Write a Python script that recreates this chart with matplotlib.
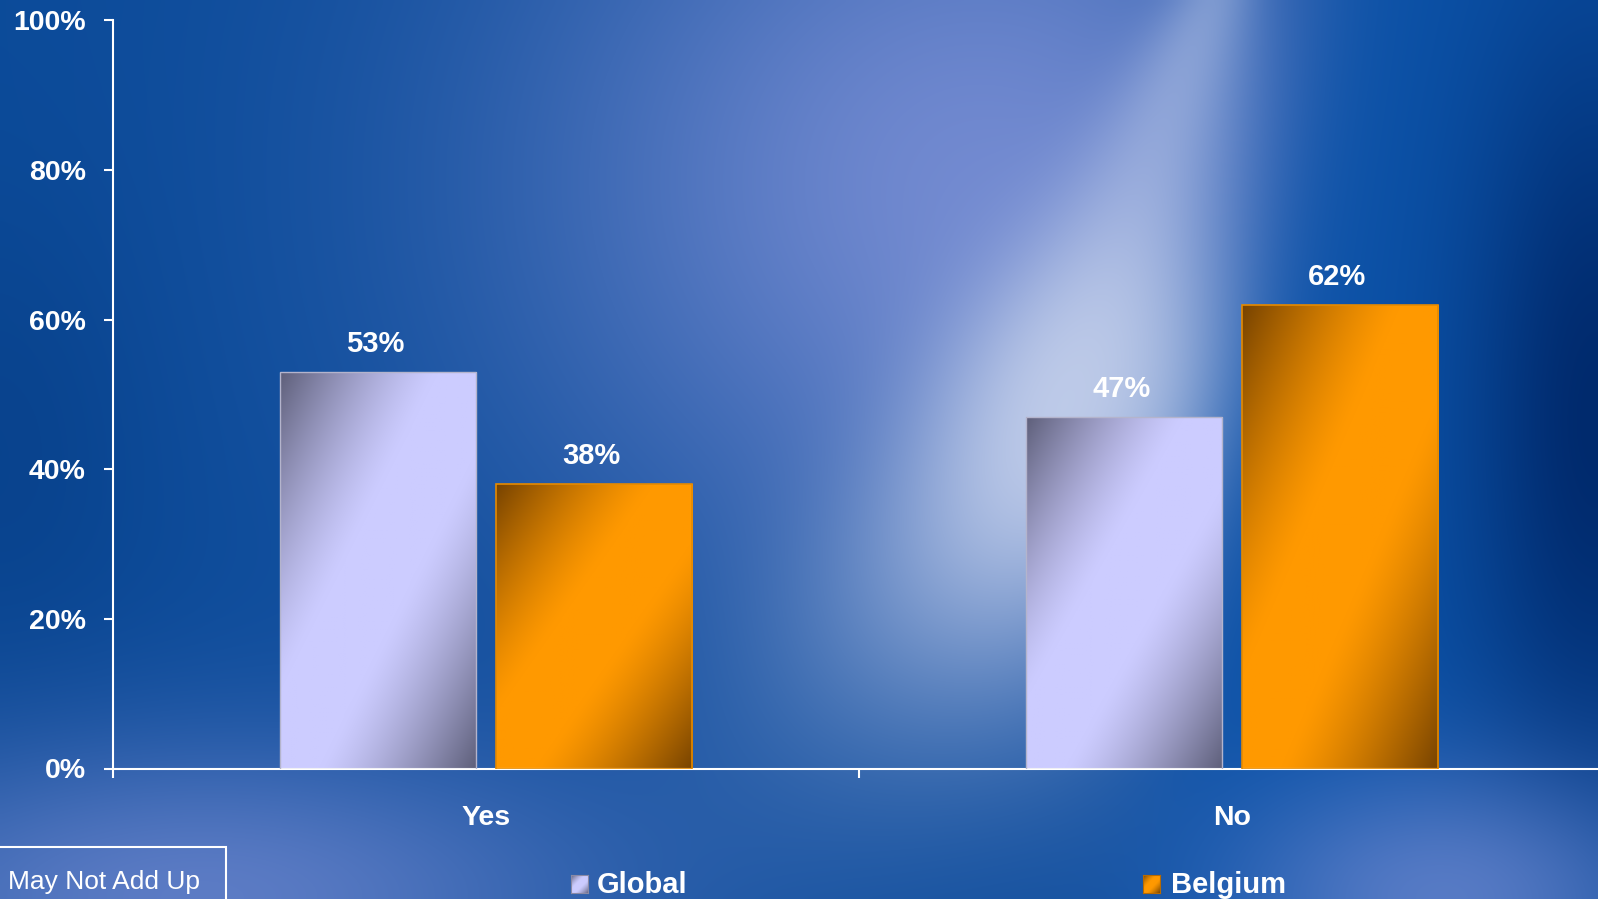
import numpy as np
import matplotlib
matplotlib.use("Agg")
import matplotlib.pyplot as plt
import matplotlib.colors as mcolors
from matplotlib.patches import Rectangle

plt.rcParams['font.family'] = ['Liberation Sans', 'DejaVu Sans']

# data
categories = ['Yes', 'No']
global_vals = [53, 47]
belgium_vals = [38, 62]
series_names = ['Global', 'Belgium']
y_ticks = [0, 20, 40, 60, 80, 100]
y_tick_labels = ['0%', '20%', '40%', '60%', '80%', '100%']
footnote = 'May Not Add Up'

W_PX, H_PX = 1598, 899
fig = plt.figure(figsize=(W_PX / 100, H_PX / 100), dpi=100)


def rgb(h):
    return np.array(mcolors.to_rgb(h))


def blend(img, color, a):
    a = np.clip(a, 0, 1)[..., None]
    return img * (1 - a) + rgb(color) * a


def gauss(px, py, cx, cy, sx, sy):
    return np.exp(-((px - cx) / sx) ** 2 - ((py - cy) / sy) ** 2)


# background: blue slide with a soft light beam
gh, gw = 225, 400
yy, xx = np.mgrid[0:gh, 0:gw]
px = xx * W_PX / (gw - 1)
py = yy * H_PX / (gh - 1)
bg = np.ones((gh, gw, 3)) * rgb('#0b4b9a')
bg = blend(bg, '#063d85', 0.6 * gauss(px, py, 0, 450, 160, 260))
bg = blend(bg, '#7189d0', 1.0 * gauss(px, py, 980, 180, 470, 430))
# beam
beam_x = 1215 - 0.36 * py
sig = 45 + 0.24 * py
beam_w = np.exp(-((px - beam_x) / sig) ** 2)
beam_s = 0.9 * np.exp(-((py - 420) / 280) ** 2) + 0.35 * np.exp(-(py / 170) ** 2)
bg = blend(bg, '#c5d0ec', beam_w * beam_s)
bg = blend(bg, '#c3cfea', 0.55 * gauss(px, py, 1110, 390, 150, 130))
# right side darker blue and navy edge
right = 1 / (1 + np.exp(-(px - 1320 + 0.2 * py) / 35))
bg = blend(bg, '#0b52a8', right)
bg = blend(bg, '#00286a', 0.95 * gauss(px, py, 1598, 420, 130, 400))
# lighter glow along the bottom
bg = blend(bg, '#6a84cc', 0.85 * gauss(px, py, 200, 899, 420, 160))
bg = blend(bg, '#7089d0', 0.75 * gauss(px, py, 1450, 899, 220, 130))

ax_bg = fig.add_axes([0, 0, 1, 1], zorder=-10)
ax_bg.imshow(bg, extent=[0, 1, 0, 1], aspect='auto', interpolation='bicubic')
ax_bg.set_axis_off()


def bar_gradient(dark, light, n=200):
    u, w = np.meshgrid(np.linspace(0, 1, n), np.linspace(0, 1, n))
    f = np.abs(u + w - 1)
    k = np.clip((f - 0.2) / 0.8, 0, 1) ** 1.3
    return rgb(light) * (1 - k[..., None]) + rgb(dark) * k[..., None]


grad_global = bar_gradient('#5e5f7a', '#ccccff')
grad_belgium = bar_gradient('#774300', '#ff9900')

# main axes, category width 746 px, starting at x=113
left = 113 / W_PX
bottom = 1 - 768.5 / H_PX
top = 1 - 20.4 / H_PX
ax = fig.add_axes([left, bottom, 2 * 746 / W_PX, top - bottom])
ax.patch.set_alpha(0)

x = np.arange(len(categories))
bw = 0.263
off = 0.1445
bars_g = ax.bar(x - off, global_vals, bw, facecolor='none',
                edgecolor='#b4b4cc', linewidth=1.0, zorder=3)
bars_b = ax.bar(x + off, belgium_vals, bw, facecolor='none',
                edgecolor='#e58a00', linewidth=1.2, zorder=3)

for bars, grad in [(bars_g, grad_global), (bars_b, grad_belgium)]:
    for rect in bars:
        x0, w, h = rect.get_x(), rect.get_width(), rect.get_height()
        im = ax.imshow(grad, extent=[x0, x0 + w, 0, h], origin='upper',
                       aspect='auto', interpolation='bilinear', zorder=2)
        im.set_clip_path(rect)
        ax.annotate(f'{h:.0f}%', (x0 + w / 2, h), xytext=(-2, 20),
                    textcoords='offset points', ha='center', va='center',
                    color='white', fontsize=21, fontweight='bold')

ax.set_xlim(-0.5, 1.5)
ax.set_ylim(0, 100)

for s in ['top', 'right']:
    ax.spines[s].set_visible(False)
for s in ['left', 'bottom']:
    ax.spines[s].set_color('white')
    ax.spines[s].set_linewidth(1.5)

ax.set_yticks(y_ticks)
ax.set_yticklabels(y_tick_labels)
ax.tick_params(axis='y', colors='white', length=6.5, width=1.5, pad=13,
               labelsize=20.5)
for t in ax.get_yticklabels():
    t.set_fontweight('bold')

ax.set_xticks(x)
ax.set_xticklabels(categories)
ax.set_xticks([-0.5, 0.5, 1.5], minor=True)
ax.tick_params(axis='x', which='major', length=0, pad=26.5, colors='white',
               labelsize=20.5)
ax.tick_params(axis='x', which='minor', length=6.5, width=1.5, colors='white')
for t in ax.get_xticklabels():
    t.set_fontweight('bold')

# legend along the bottom
legend_items = [(series_names[0], grad_global, '#8a8aa6', 571, 597),
                (series_names[1], grad_belgium, '#b86a00', 1143, 1171)]
for name, grad, ec, mx, tx in legend_items:
    max_ = fig.add_axes([mx / W_PX, 1 - 893 / H_PX, 17 / W_PX, 18 / H_PX])
    max_.imshow(grad, aspect='auto', interpolation='bilinear')
    max_.set_xticks([])
    max_.set_yticks([])
    for s in max_.spines.values():
        s.set_color(ec)
        s.set_linewidth(0.8)
    fig.text(tx / W_PX, 1 - 885 / H_PX, name, color='white', fontsize=21,
             fontweight='bold', ha='left', va='center')

# footnote box in the lower left corner
fig.add_artist(Rectangle((-2 / W_PX, 1 - 910 / H_PX), 228 / W_PX, 63 / H_PX,
                         transform=fig.transFigure, facecolor='none',
                         edgecolor='white', linewidth=1.5))
fig.text(8 / W_PX, 1 - 889 / H_PX, footnote, color='white', fontsize=19,
         ha='left', va='baseline')

fig.savefig('out.png', dpi=100)
